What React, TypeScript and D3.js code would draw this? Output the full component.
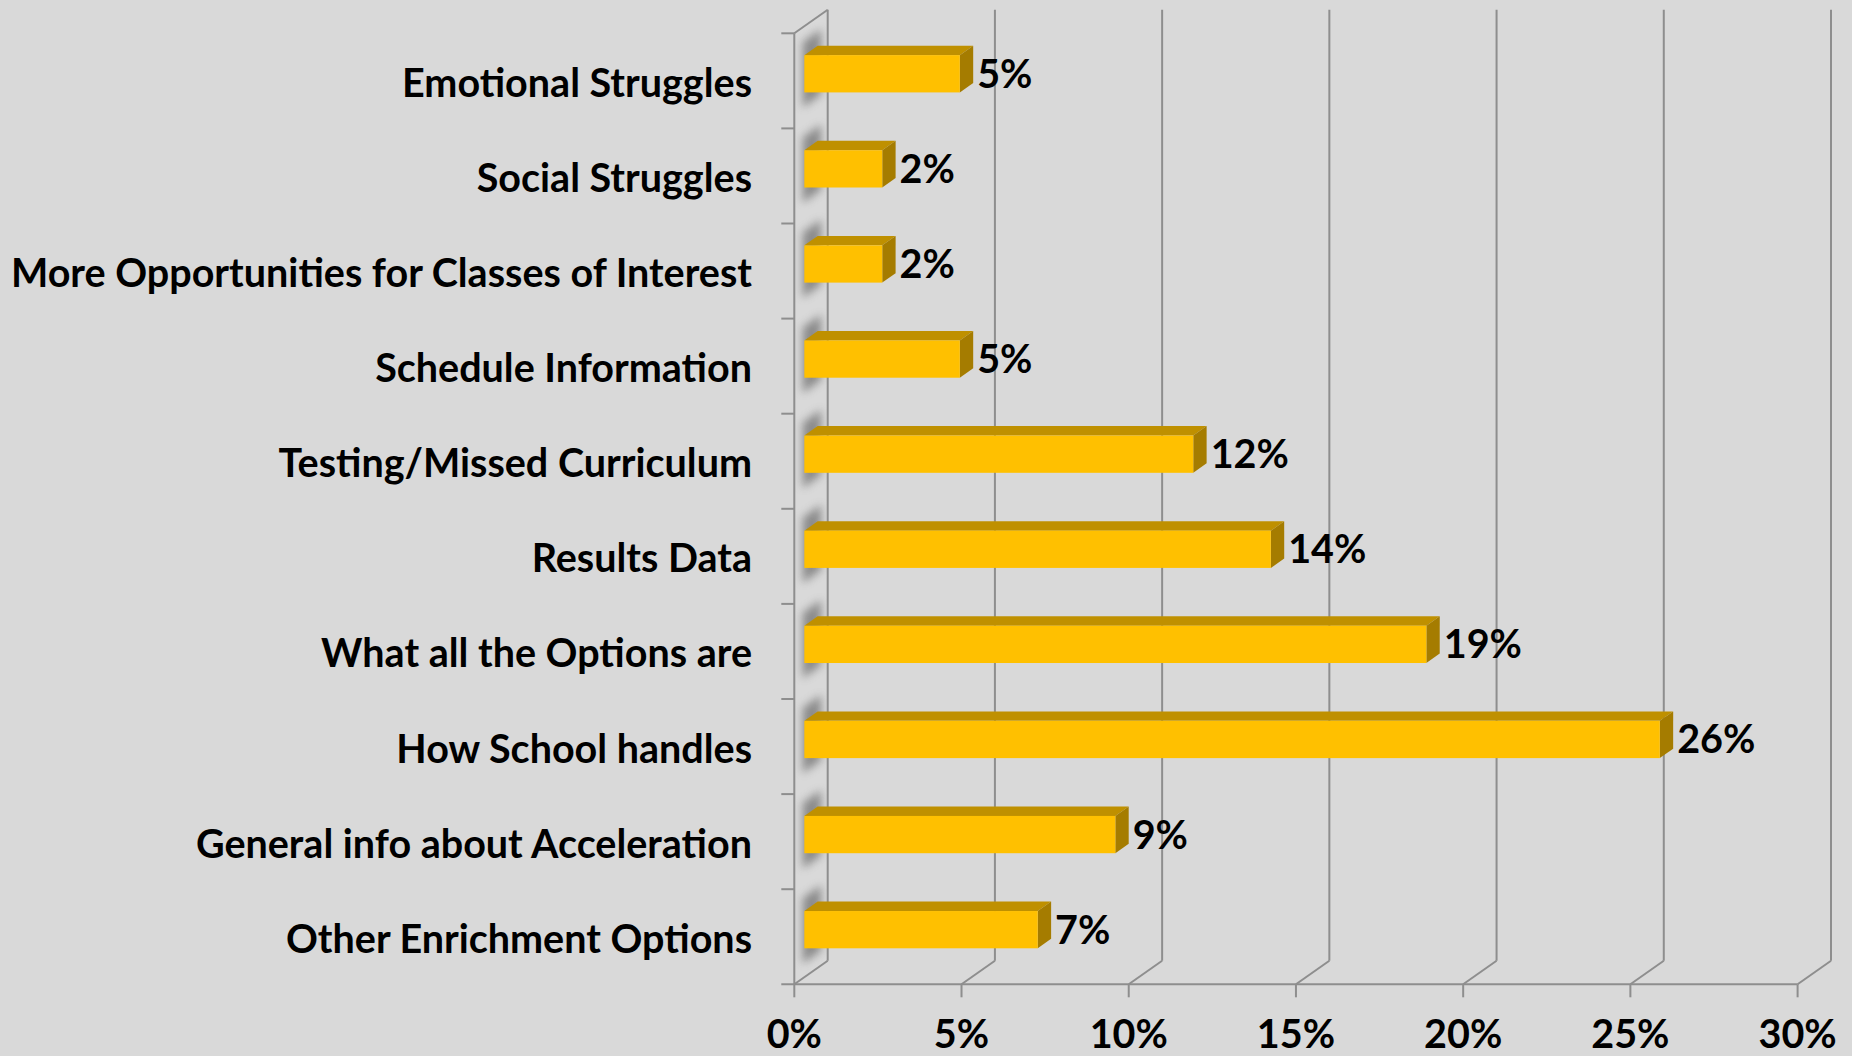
import { scaleBand, scaleLinear } from "d3"

const categories = [
  "Emotional Struggles",
  "Social Struggles",
  "More Opportunities for Classes of Interest",
  "Schedule Information",
  "Testing/Missed Curriculum",
  "Results Data",
  "What all the Options are",
  "How School handles",
  "General info about Acceleration",
  "Other Enrichment Options",
]
const shares = [0.0465, 0.0233, 0.0233, 0.0465, 0.1163, 0.1395, 0.186, 0.2558, 0.093, 0.0698]
const xTicks = [0, 0.05, 0.1, 0.15, 0.2, 0.25, 0.3]

const W = 1852
const H = 1056
const X0 = 794.3 // front edge of the floor, 0%
const TOP = 33.3
const BOTTOM = 984.3
const DX = 33.4 // depth offset of the back wall
const DY = -23.6
const D0 = 0.3 // bar front/back depth
const D1 = 0.7
const GRID = "#8e8e8e"
const FONT = "Lato, 'Open Sans', sans-serif"
const FS = 39.5

export default function App() {
  const xScale = scaleLinear().domain([0, 0.3]).range([0, 1003.3])
  const yScale = scaleBand().domain(categories).range([TOP, BOTTOM]).paddingInner(0.608).paddingOuter(0.304)
  const step = yScale.step()
  const bw = yScale.bandwidth()

  const px = (v: number, d: number) => X0 + xScale(v) + DX * d
  const py = (y: number, d: number) => y + DY * d
  const pts = (a: [number, number][]) => a.map((p) => p.join(",")).join(" ")

  const wall: [number, number][] = [
    [X0, TOP], [X0 + DX, TOP + DY], [X0 + DX, BOTTOM + DY], [X0, BOTTOM],
  ]

  return (
    <div style={{ position: "absolute", left: 0, top: 0 }}>
      <svg width={W} height={H} viewBox={`0 0 ${W} ${H}`} style={{ display: "block", background: "#d9d9d9" }}>
        <defs>
          <filter id="blur" x="-50%" y="-50%" width="200%" height="200%">
            <feGaussianBlur stdDeviation="4" />
          </filter>
          <clipPath id="wallclip">
            <polygon points={pts(wall)} />
          </clipPath>
        </defs>

        {/* left wall shadows */}
        <g clipPath="url(#wallclip)">
          {categories.map((c) => {
            const y = yScale(c)!
            const t = y - 14
            const b = y + bw + 14
            return (
              <polygon
                key={c}
                points={pts([
                  [X0 + DX * 0.25, py(t, 0.25)], [X0 + DX * 0.8, py(t, 0.8)],
                  [X0 + DX * 0.8, py(b, 0.8)], [X0 + DX * 0.25, py(b, 0.25)],
                ])}
                fill="#6a6a6a"
                opacity={0.7}
                filter="url(#blur)"
              />
            )
          })}
        </g>

        {/* back wall gridlines and floor */}
        {xTicks.map((t) => (
          <g key={t} stroke={GRID} strokeWidth={2} fill="none">
            <line x1={px(t, 1)} x2={px(t, 1)} y1={TOP + DY} y2={BOTTOM + DY} />
            <line x1={px(t, 0)} y1={BOTTOM} x2={px(t, 1)} y2={BOTTOM + DY} />
            <line x1={px(t, 0)} x2={px(t, 0)} y1={BOTTOM} y2={BOTTOM + 13} />
          </g>
        ))}
        <line x1={X0 - 13} x2={px(0.3, 0)} y1={BOTTOM} y2={BOTTOM} stroke={GRID} strokeWidth={2} />
        <line x1={X0} x2={X0} y1={TOP} y2={BOTTOM} stroke={GRID} strokeWidth={2} />
        <line x1={X0} y1={TOP} x2={X0 + DX} y2={TOP + DY} stroke={GRID} strokeWidth={2} />
        {categories.map((c, i) => (
          <line key={c} x1={X0 - 13} x2={X0} y1={TOP + i * step} y2={TOP + i * step} stroke={GRID} strokeWidth={2} />
        ))}

        {/* bars */}
        {categories.map((c, i) => {
          const v = shares[i]
          const yt = yScale(c)!
          const yb = yt + bw
          return (
            <g key={c}>
              <polygon
                points={pts([[px(0, D0), py(yt, D0)], [px(v, D0), py(yt, D0)], [px(v, D1), py(yt, D1)], [px(0, D1), py(yt, D1)]])}
                fill="#bf9000"
              />
              <polygon
                points={pts([[px(v, D0), py(yt, D0)], [px(v, D1), py(yt, D1)], [px(v, D1), py(yb, D1)], [px(v, D0), py(yb, D0)]])}
                fill="#a57c00"
              />
              <rect x={px(0, D0)} y={py(yt, D0)} width={xScale(v)} height={bw} fill="#ffc000" />
              <text
                x={px(v, D1) + 4}
                y={py(yt + bw / 2, D0) + 14}
                fontFamily={FONT}
                fontWeight={700}
                fontSize={FS}
                fill="#000"
              >
                {Math.round(v * 100)}%
              </text>
            </g>
          )
        })}

        {/* category labels */}
        {categories.map((c) => (
          <text
            key={c}
            x={752}
            y={yScale(c)! + bw / 2 + 16}
            textAnchor="end"
            fontFamily={FONT}
            fontWeight={700}
            fontSize={FS}
            fill="#000"
          >
            {c}
          </text>
        ))}

        {/* x tick labels */}
        {xTicks.map((t) => (
          <text
            key={t}
            x={px(t, 0)}
            y={1048}
            textAnchor="middle"
            fontFamily={FONT}
            fontWeight={700}
            fontSize={FS}
            fill="#000"
          >
            {Math.round(t * 100)}%
          </text>
        ))}
      </svg>
    </div>
  )
}
